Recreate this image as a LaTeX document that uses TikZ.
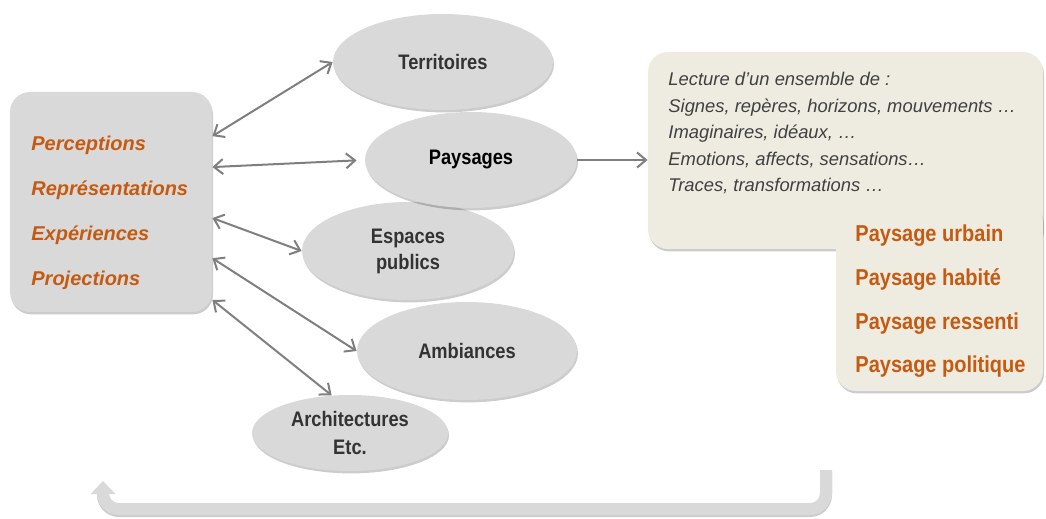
\documentclass[tikz,border=0pt]{standalone}
\usepackage{fontspec}
\setmainfont{Liberation Sans}
\newfontfamily\narrowfont{Liberation Sans}[FakeStretch=0.87]
\usetikzlibrary{arrows.meta,shapes.geometric,shadows}
\definecolor{bubblegray}{HTML}{D9D9D9}
\definecolor{linkgray}{HTML}{7F7F7F}
\definecolor{sandbg}{HTML}{EEEBE1}
\definecolor{rust}{HTML}{C55A11}
\definecolor{inkgray}{HTML}{404040}

\begin{document}
\begin{tikzpicture}[x=0.5pt,y=-0.5pt,
  softshadow/.style={drop shadow={shadow xshift=0.5pt,shadow yshift=-1.2pt,opacity=0.2,fill=black}},
  bubble/.style={ellipse,fill=bubblegray,inner sep=0pt,softshadow,text=black!80,align=center,
    font=\narrowfont\bfseries\fontsize{10.5}{13}\selectfont},
  card/.style={rectangle,rounded corners=10pt,inner sep=0pt,softshadow},
  barb/.tip={Straight Barb[length=4.5pt,width=7.5pt]},
  link/.style={barb-barb,linkgray,line width=1pt}
]
\useasboundingbox (0,0) rectangle (1046,519);

% left box
\node[card,fill=bubblegray,minimum width=101pt,minimum height=110pt] (senses) at (111,202) {};
\node[anchor=west,align=left,inner sep=0pt,text=rust,font=\bfseries\itshape\fontsize{10}{22.5}\selectfont]
  (senselist) at (31,213) {Perceptions\\Représentations\\Expériences\\Projections};

% ellipses
\node[bubble,minimum width=110pt,minimum height=48pt] (terr) at (443,62) {Territoires};
\node[bubble,minimum width=106pt,minimum height=49pt] (espaces) at (408,251) {Espaces\\publics};
\node[bubble,minimum width=106pt,minimum height=48pt,text=black] (pays) at (471,160) {Paysages};
\node[bubble,minimum width=110pt,minimum height=49pt] (amb) at (467,351) {Ambiances};
\node[bubble,minimum width=98pt,minimum height=38pt,
  font=\narrowfont\bfseries\fontsize{10.5}{14}\selectfont] (archi) at (350,433) {Architectures\\Etc.};

\draw[link] (senses.33) -- (terr.west);
\draw[link,shorten >=4pt] (senses.19) -- (pays.west);
\draw[link] (senses.-9) -- (espaces.west);
\draw[link] (senses.-29) -- (amb.west);
\draw[link] (senses.-44) -- (archi.116);

% right boxes
\node[card,fill=sandbg,minimum width=197.5pt,minimum height=98.5pt] (lecture) at (845.5,150.5) {};
\node[anchor=north west,align=left,inner sep=0pt,text=inkgray,font=\itshape\fontsize{9.2}{13.25}\selectfont]
  (lecturetext) at (668,72) {Lecture d’un ensemble de :\\Signes, repères, horizons, mouvements …\\Imaginaires, idéaux, …\\Emotions, affects, sensations…\\Traces, transformations …};
\draw[-barb,linkgray,line width=1pt] (pays.east) -- (pays.east -| lecture.west);

\node[card,fill=sandbg,minimum width=103.5pt,minimum height=94.5pt] (kinds) at (939.5,296.5) {};
\node[anchor=west,align=left,inner sep=0pt,text=rust,font=\narrowfont\bfseries\fontsize{11.5}{21.8}\selectfont]
  (kindlist) at (855,301.5) {Paysage urbain\\Paysage habité\\Paysage ressenti\\Paysage politique};

% return arrow
\coordinate (loopstart) at (826,470);
\coordinate (loopend) at (103,481);
\draw[black!20,line width=6pt,rounded corners=8pt,transform canvas={yshift=-1pt}] (loopstart) |- (103,509) -- (103,494);
\draw[bubblegray,line width=6pt,rounded corners=8pt,-{Triangle[width=12pt,length=6.5pt]}]
  (loopstart) |- (103,509) -- (loopend);
\end{tikzpicture}
\end{document}
